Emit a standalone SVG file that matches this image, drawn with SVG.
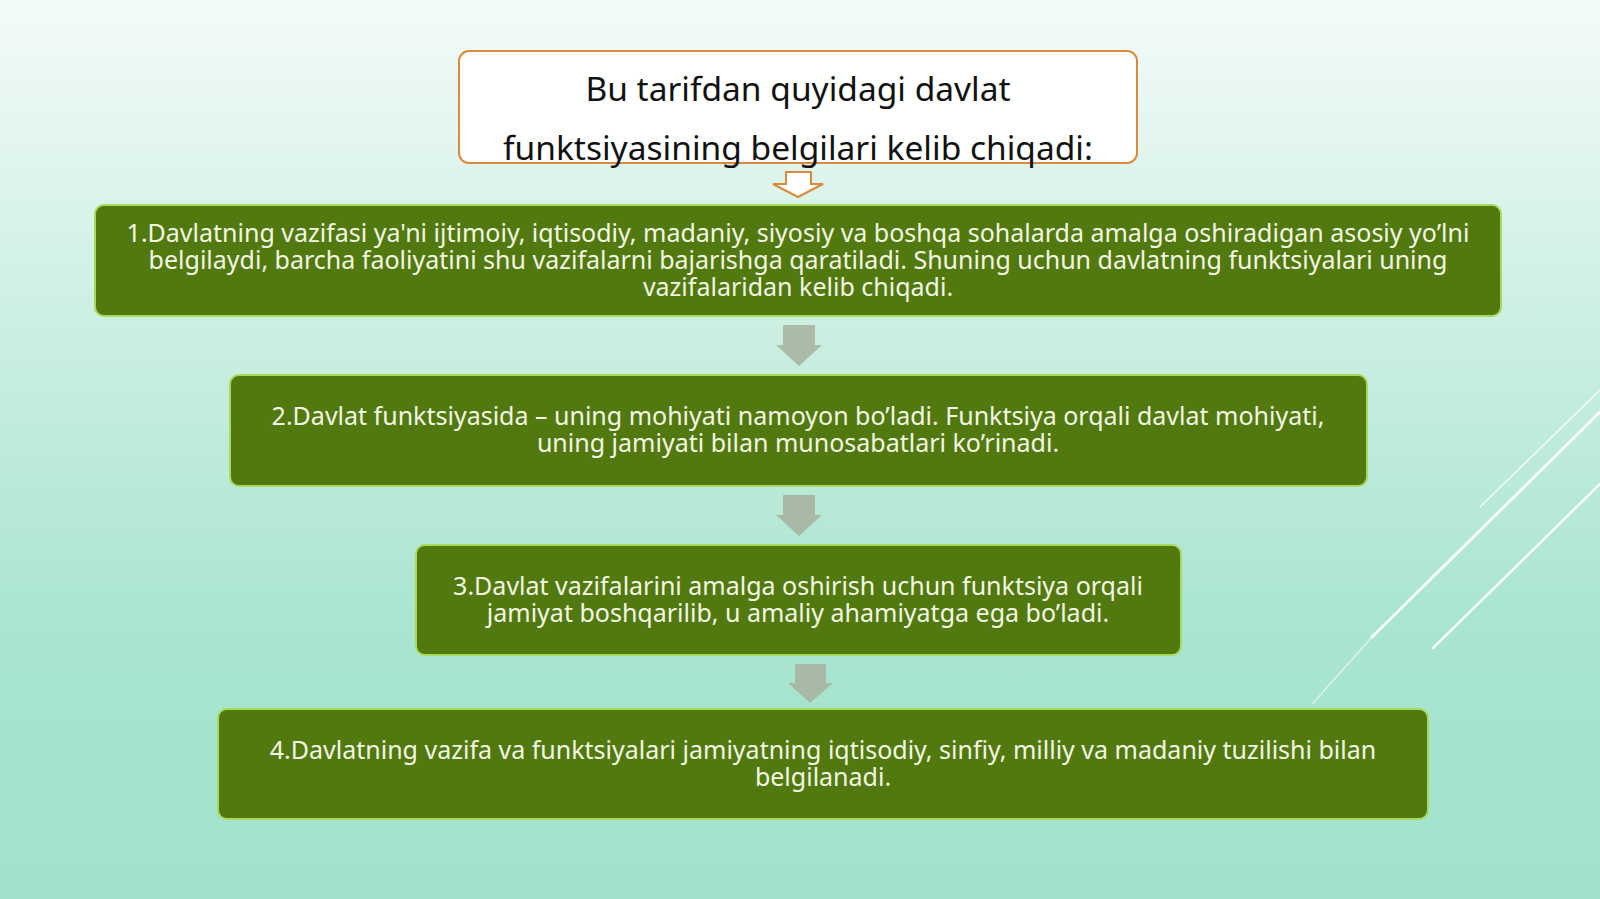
<svg xmlns="http://www.w3.org/2000/svg" width="1600" height="899" viewBox="0 0 1600 899">
<defs>
<linearGradient id="bg" x1="0" y1="0" x2="0" y2="1">
<stop offset="0" stop-color="#f4fbf8"/>
<stop offset="0.3" stop-color="#d2f1e5"/>
<stop offset="0.7" stop-color="#a9e5cf"/>
<stop offset="1" stop-color="#a2e2cb"/>
</linearGradient>
<style>
.box{fill:#52790f;stroke:#a7d95c;stroke-width:2}
.txt{font-family:"Noto Sans","Open Sans",sans-serif;font-size:25px;fill:#f2f7e2;text-anchor:middle}
.ttl{font-family:"Noto Sans","Open Sans",sans-serif;font-size:33.5px;fill:#111111;text-anchor:middle}
.arr{fill:#a8b4a2;opacity:0.9}
.ln{stroke:#ffffff;stroke-linecap:round}
</style>
</defs>
<rect width="1600" height="899" fill="url(#bg)"/>
<g id="decor">
<line class="ln" x1="1480" y1="507" x2="1600" y2="390" stroke-width="1.5" opacity="0.8"/>
<line class="ln" x1="1372" y1="637" x2="1600" y2="412" stroke-width="3" opacity="0.9"/>
<line class="ln" x1="1313" y1="703" x2="1372" y2="637" stroke-width="1.5" opacity="0.6"/>
<line class="ln" x1="1433" y1="648" x2="1600" y2="484" stroke-width="2.5" opacity="0.9"/>
</g>
<g id="title">
<rect x="459" y="51" width="678" height="112" rx="10" fill="#ffffff" stroke="#d98a3a" stroke-width="2"/>
<text class="ttl" x="798" y="101">Bu tarifdan quyidagi davlat</text>
<text class="ttl" x="798" y="160">funktsiyasining belgilari kelib chiqadi:</text>
</g>
<g id="connectors">
<path d="M786,172 H811 V184 H823 L798,197 L773,184 H786 Z" fill="#ffffff" stroke="#d98a3a" stroke-width="2"/>
<path class="arr" d="M783,325 H815 V345 H822 L799,366 L776,345 H783 Z"/>
<path class="arr" d="M783,495 H815 V515 H822 L799,536 L776,515 H783 Z"/>
<path class="arr" d="M795,664 H826 V683 H833 L810,703 L788,683 H795 Z"/>
</g>
<g id="node1">
<rect class="box" x="95" y="205" width="1406" height="111" rx="9"/>
<text class="txt" x="798" y="242">1.Davlatning vazifasi ya'ni ijtimoiy, iqtisodiy, madaniy, siyosiy va boshqa sohalarda amalga oshiradigan asosiy yo’lni</text>
<text class="txt" x="798" y="269">belgilaydi, barcha faoliyatini shu vazifalarni bajarishga qaratiladi. Shuning uchun davlatning funktsiyalari uning</text>
<text class="txt" x="798" y="296">vazifalaridan kelib chiqadi.</text>
</g>
<g id="node2">
<rect class="box" x="230" y="375" width="1137" height="111" rx="9"/>
<text class="txt" x="798" y="425">2.Davlat funktsiyasida – uning mohiyati namoyon bo’ladi. Funktsiya orqali davlat mohiyati,</text>
<text class="txt" x="798" y="452">uning jamiyati bilan munosabatlari ko’rinadi.</text>
</g>
<g id="node3">
<rect class="box" x="416" y="545" width="765" height="110" rx="9"/>
<text class="txt" x="798" y="595">3.Davlat vazifalarini amalga oshirish uchun funktsiya orqali</text>
<text class="txt" x="798" y="622">jamiyat boshqarilib, u amaliy ahamiyatga ega bo’ladi.</text>
</g>
<g id="node4">
<rect class="box" x="218" y="709" width="1210" height="110" rx="9"/>
<text class="txt" x="823" y="759">4.Davlatning vazifa va funktsiyalari jamiyatning iqtisodiy, sinfiy, milliy va madaniy tuzilishi bilan</text>
<text class="txt" x="823" y="786">belgilanadi.</text>
</g>
</svg>
